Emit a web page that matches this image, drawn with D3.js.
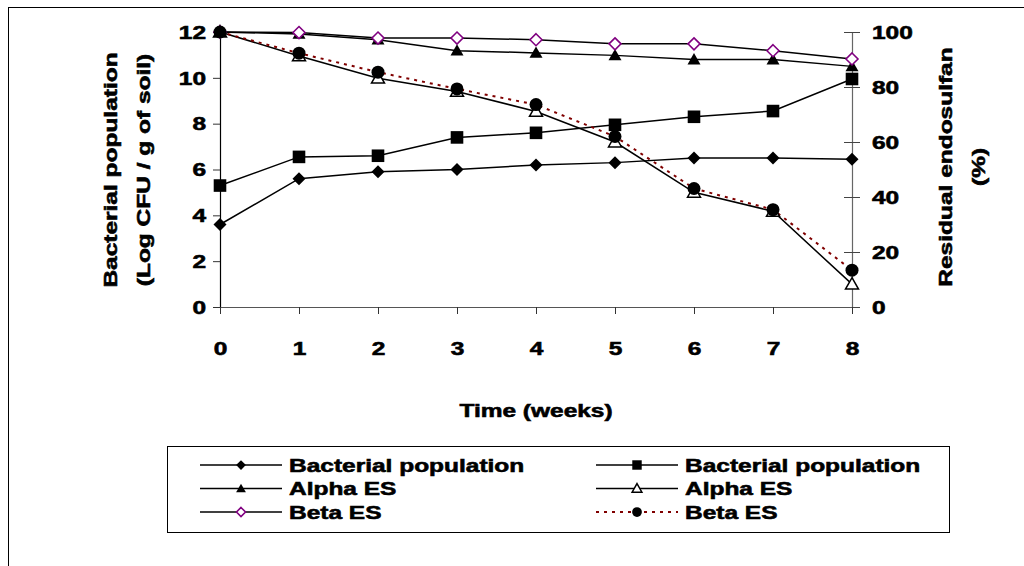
<!DOCTYPE html>
<html lang="en">
<head>
<meta charset="utf-8">
<title>Bacterial population and residual endosulfan</title>
<script src="https://cdnjs.cloudflare.com/ajax/libs/d3/7.8.5/d3.min.js"></script>
<style>
  body { margin: 0; background: #fff; }
  svg text { font-family: "Liberation Sans", Arial, sans-serif; font-weight: bold; font-size: 17.5px;
             fill: #000; stroke: #000; stroke-width: 0.55px; }
</style>
</head>
<body>
<svg id="chart" width="1024" height="566"></svg>
<script>
// data
var weeks = [0, 1, 2, 3, 4, 5, 6, 7, 8];
var bactDiamond = [3.6, 5.6, 5.9, 6.0, 6.2, 6.3, 6.5, 6.5, 6.45];   // left axis
var bactSquare  = [5.3, 6.55, 6.6, 7.4, 7.6, 7.95, 8.3, 8.55, 9.95]; // left axis
var alphaFilled = [100, 99.3, 97.2, 93.2, 92.4, 91.5, 90, 90, 87.5]; // right axis %
var alphaOpen   = [100, 91.3, 83.2, 78.4, 71.1, 60, 41.7, 34.8, 8.3];
var betaOpen    = [100, 99.8, 97.8, 97.8, 97.2, 95.7, 95.7, 93.2, 90.2];
var betaCircle  = [100, 92.3, 85.4, 79.3, 73.6, 62, 43.1, 35.4, 13.4];
var leftTicks = [0, 2, 4, 6, 8, 10, 12];
var rightTicks = [0, 20, 40, 60, 80, 100];
var legendLabels = ["Bacterial population", "Bacterial population", "Alpha ES", "Alpha ES", "Beta ES", "Beta ES"];

var svg = d3.select("#chart");
var SX = 1.4; // the text in the picture is wide

var x = d3.scaleLinear().domain([0, 8]).range([220, 852]);
var yL = d3.scaleLinear().domain([0, 12]).range([307, 32]);
var yR = d3.scaleLinear().domain([0, 100]).range([307, 32]);

// outer frame (cut by the picture edge on the right and bottom)
svg.append("rect").attr("x", 8.5).attr("y", 7.5).attr("width", 1100).attr("height", 700)
  .attr("fill", "none").attr("stroke", "#000").attr("stroke-width", 1);

// marker shapes
function diamond(r) { return "M0," + (-r) + "L" + r + ",0L0," + r + "L" + (-r) + ",0Z"; }
function square(r) { return "M" + (-r) + "," + (-r) + "h" + 2 * r + "v" + 2 * r + "h" + (-2 * r) + "Z"; }
function triangle(r) { return "M0," + (-r) + "L" + r + "," + (r * 0.75) + "L" + (-r) + "," + (r * 0.75) + "Z"; }
function circle(r) { return "M" + (-r) + ",0a" + r + "," + r + " 0 1,0 " + 2 * r + ",0a" + r + "," + r + " 0 1,0 " + (-2 * r) + ",0Z"; }

// drawing order: the filled circles end up on top
var series = [
  { vals: alphaOpen,   y: yR, shape: triangle, r: 6.5, fill: "#fff", stroke: "#000", sw: 1.5, line: "#000", dash: null },
  { vals: bactDiamond, y: yL, shape: diamond,  r: 6.5, fill: "#000", stroke: "#000", sw: 0,   line: "#000", dash: null },
  { vals: bactSquare,  y: yL, shape: square,   r: 6.3, fill: "#000", stroke: "#000", sw: 0,   line: "#000", dash: null },
  { vals: alphaFilled, y: yR, shape: triangle, r: 6.5, fill: "#000", stroke: "#000", sw: 0,   line: "#000", dash: null },
  { vals: betaOpen,    y: yR, shape: diamond,  r: 6,   fill: "#fff", stroke: "#800080", sw: 1.6, line: "#000", dash: null },
  { vals: betaCircle,  y: yR, shape: circle,   r: 6.5, fill: "#000", stroke: "#000", sw: 0,   line: "#800000", dash: "3,5" }
];

// axes
var gL = svg.append("g").attr("transform", "translate(220,0)")
  .call(d3.axisLeft(yL).tickValues(leftTicks).tickSize(7).tickSizeOuter(0).tickFormat(d3.format("d")));
gL.select(".domain").attr("stroke", "#000").attr("stroke-width", 1.2);
gL.selectAll(".tick line").attr("stroke", "#333");
gL.selectAll(".tick text").attr("x", null).attr("dy", "0.36em")
  .attr("transform", "translate(-14,0) scale(" + SX + ",1)");

var gR = svg.append("g").attr("transform", "translate(852,0)")
  .call(d3.axisRight(yR).tickValues(rightTicks).tickSize(8).tickSizeOuter(0));
gR.select(".domain").attr("stroke", "#666").attr("stroke-width", 1.2);
gR.selectAll(".tick line").attr("x1", -8).attr("stroke", "#444");
gR.selectAll(".tick text").attr("x", null).attr("dy", "0.36em")
  .attr("transform", "translate(20,0) scale(" + SX + ",1)");

var gX = svg.append("g").attr("transform", "translate(0,307)")
  .call(d3.axisBottom(x).tickValues(weeks).tickSize(7).tickSizeOuter(0));
gX.select(".domain").attr("stroke", "#555").attr("stroke-width", 1.2);
gX.selectAll(".tick line").attr("stroke", "#333");
gX.selectAll(".tick text").attr("y", null).attr("dy", null)
  .attr("transform", "translate(0,48) scale(" + SX + ",1)");
svg.selectAll(".tick text").attr("font-size", null).attr("font-family", null);

// titles
function title(txt, tx, ty, rot) {
  svg.append("text").attr("text-anchor", "middle")
    .attr("transform", "translate(" + tx + "," + ty + ") rotate(" + rot + ") scale(" + SX + ",1)")
    .text(txt);
}
title("Time (weeks)", 536, 417, 0);
title("Bacterial population", 117, 170, -90);
title("(Log CFU / g of soil)", 150, 170, -90);
title("Residual endosulfan", 952, 167, -90);
title("(%)", 985, 167, -90);

// lines and markers
series.forEach(function(s) {
  var line = d3.line().x(function(d, i) { return x(weeks[i]); }).y(function(d) { return s.y(d); });
  svg.append("path").datum(s.vals).attr("d", line).attr("fill", "none")
    .attr("stroke", s.line).attr("stroke-width", s.dash ? 2 : 1.5)
    .attr("stroke-dasharray", s.dash);
});
series.forEach(function(s) {
  svg.append("g").selectAll("path").data(s.vals).enter().append("path")
    .attr("transform", function(d, i) { return "translate(" + x(weeks[i]) + "," + s.y(d) + ")"; })
    .attr("d", s.shape(s.r)).attr("fill", s.fill)
    .attr("stroke", s.sw ? s.stroke : "none").attr("stroke-width", s.sw);
});

// legend
svg.append("rect").attr("x", 167.5).attr("y", 446.5).attr("width", 782).attr("height", 86)
  .attr("fill", "#fff").attr("stroke", "#000").attr("stroke-width", 1);
var legendOrder = [1, 2, 3, 0, 4, 5]; // row by row, left column first
legendOrder.forEach(function(si, k) {
  var s = series[si];
  var col = k % 2, row = Math.floor(k / 2);
  var lx = col === 0 ? 200 : 596, ly = 465 + row * 23.5;
  svg.append("line").attr("x1", lx).attr("x2", lx + 82).attr("y1", ly).attr("y2", ly)
    .attr("stroke", s.line).attr("stroke-width", s.dash ? 2 : 1.5).attr("stroke-dasharray", s.dash);
  svg.append("path").attr("transform", "translate(" + (lx + 41) + "," + ly + ")")
    .attr("d", s.shape(s.r * 0.75)).attr("fill", s.fill)
    .attr("stroke", s.sw ? s.stroke : "none").attr("stroke-width", s.sw);
  svg.append("text").attr("transform", "translate(" + (lx + 89) + "," + (ly + 6.5) + ") scale(" + SX + ",1)")
    .text(legendLabels[k]);
});
</script>
</body>
</html>
